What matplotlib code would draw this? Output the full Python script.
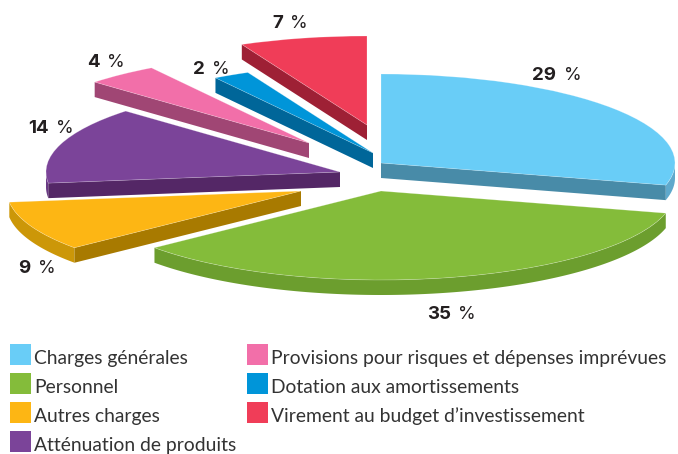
import numpy as np
import matplotlib
matplotlib.use("Agg")
import matplotlib.pyplot as plt
from matplotlib.patches import Wedge, Polygon, Patch, Rectangle
from matplotlib.legend_handler import HandlerPatch
from matplotlib.transforms import Affine2D

categories = ["Charges générales", "Personnel", "Autres charges", "Atténuation de produits",
              "Provisions pour risques et dépenses imprévues", "Dotation aux amortissements",
              "Virement au budget d’investissement"]
values = [29, 35, 9, 14, 4, 2, 7]

# styles
top_colors = ["#69CDF7", "#84BC3A", "#FDB614", "#7B4499", "#F26FA9", "#0095D9", "#F03D58"]
rim_colors = ["#5FA9CC", "#6C9E2E", "#CC9708", "#6A3A84", "#A04674", "#006699", "#9E2035"]
cut_colors = ["#488BA8", "#6C9E2E", "#A87A00", "#542766", "#A04674", "#006699", "#9E2035"]
# layout, in figure pixels
apex = [(381, 163), (381, 191), (301, 191), (340, 172), (309, 143), (373, 153), (367, 125)]
label_pos = [(532, 564, 80), (427, 458, 319), (18, 38, 273), (28, 56, 133),
             (87, 107, 67), (193, 212, 74), (272, 290, 28)]
RX, RY, DEPTH = 294.0, 89.0, 15.0
W, H = 678, 454

fig = plt.figure(figsize=(W / 100, H / 100), dpi=100)
ax = fig.add_axes([0, 0, 1, 1])
ax.set_xlim(0, W)
ax.set_ylim(H, 0)
ax.axis("off")

edges = 90 - np.cumsum([0] + values) * 3.6


def pt(c, deg):
    a = np.radians(deg)
    return c[0] + RX * np.cos(a), c[1] - RY * np.sin(a)


for i, v in enumerate(values):
    c = apex[i]
    start, end = edges[i], edges[i + 1]
    angs = np.linspace(start, end, 200)
    angs = angs[np.sin(np.radians(angs)) < 0]
    if len(angs) > 1:
        top = [pt(c, a) for a in angs]
        bot = [(x, y + DEPTH) for x, y in top[::-1]]
        ax.add_patch(Polygon(top + bot, closed=True, fc=rim_colors[i], ec="none", zorder=2))
    for ang, visible in ((start, np.cos(np.radians(start)) < -1e-6),
                         (end, np.cos(np.radians(end)) > 1e-6)):
        if visible:
            p = pt(c, ang)
            ax.add_patch(Polygon([c, p, (p[0], p[1] + DEPTH), (c[0], c[1] + DEPTH)],
                                 closed=True, fc=cut_colors[i], ec="none", zorder=3))
    tr = Affine2D().scale(RX, -RY).translate(*c) + ax.transData
    ax.add_patch(Wedge((0, 0), 1, end, start, fc=top_colors[i], ec=(1, 1, 1, 0.3), lw=0.5,
                       zorder=4, transform=tr))

for v, (xn, xp, yb) in zip(values, label_pos):
    ax.text(xn, yb, str(v), family="Inter", weight="bold", fontsize=13.5, color="#231F20",
            ha="left", va="baseline")
    ax.text(xp, yb, "%", family="Inter", weight="normal", fontsize=13, color="#231F20",
            ha="left", va="baseline")

PT = 0.72  # points per pixel at 100 dpi
fpt = 13.9


def swatch(legend, orig_handle, xdescent, ydescent, width, height, fontsize):
    return Rectangle((-xdescent, -1.0 * PT), 21 * PT, 21 * PT)


handles = [Patch(fc=col, ec="none", label=cat) for col, cat in zip(top_colors, categories)]
leg = ax.legend(handles=handles, ncols=2, loc="upper left",
                bbox_to_anchor=(10 / W, 1 - 349 / H), bbox_transform=fig.transFigure,
                frameon=False, borderpad=0, borderaxespad=0,
                prop={"family": "Lato", "size": fpt},
                labelcolor="#333333", handlelength=21 * PT / fpt, handleheight=1.0,
                handler_map={Patch: HandlerPatch(patch_func=swatch)},
                handletextpad=3.5 * PT / fpt, labelspacing=10.6 * PT / fpt,
                columnspacing=10 * PT / fpt)
fig.savefig("out.png", dpi=100)
